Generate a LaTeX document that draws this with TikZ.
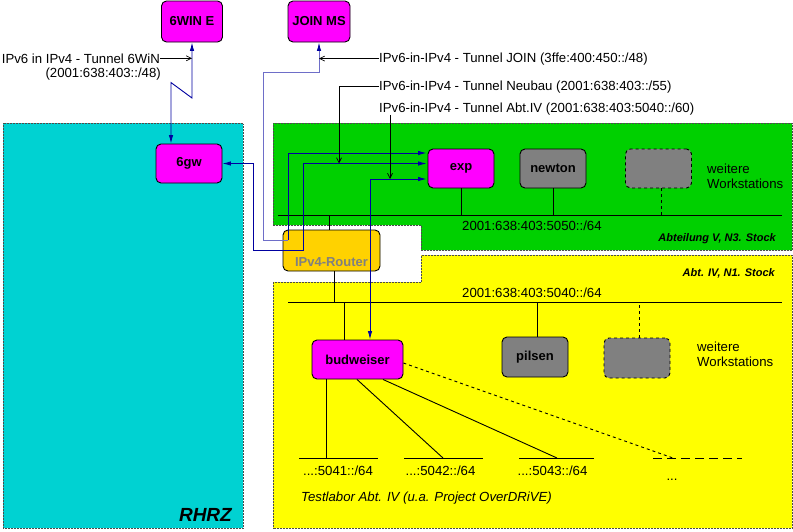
\documentclass[tikz,border=0pt]{standalone}
\usepackage{fontspec}
\setmainfont{Liberation Sans}
\usetikzlibrary{arrows.meta}

\definecolor{rhrzcyan}{RGB}{0,210,210}
\definecolor{abtgreen}{RGB}{0,208,0}
\definecolor{abtyellow}{RGB}{255,255,0}
\definecolor{hostpink}{RGB}{255,0,255}
\definecolor{routergold}{RGB}{255,210,0}
\definecolor{tunnelblue}{RGB}{0,0,160}
\definecolor{joinblue}{RGB}{110,110,200}

\tikzset{
    >={Latex[length=8.5pt,width=4.5pt]},
    txt/.style={font=\fontsize{13.2}{15}\selectfont, inner sep=0pt},
    floor/.style={font=\fontsize{11}{13}\selectfont\bfseries\itshape, inner sep=0pt},
    host/.style={draw, rounded corners=5pt, line width=0.9pt, minimum width=66pt,
        minimum height=39pt, inner sep=0pt, font=\fontsize{13}{15}\selectfont\bfseries},
    pinkhost/.style={host, fill=hostpink},
    grayhost/.style={host, fill=gray},
    morehost/.style={host, fill=gray, dashed},
    area/.style={draw=black!70, densely dotted, line width=0.5pt},
    bus/.style={line width=0.9pt},
    tunnel/.style={tunnelblue, line width=0.9pt},
    pointer/.style={line width=0.7pt, -{Straight Barb[length=5pt,width=5pt]}},
}

\begin{document}
\begin{tikzpicture}[x=1pt, y=-1pt]
\useasboundingbox (0,0) rectangle (793,531);

    % areas
    \draw[area, fill=rhrzcyan] (3,123) rectangle (243,528);
    \draw[area, fill=abtgreen] (273,123) -- (792,123) -- (792,250) -- (421,250) -- (421,225) -- (273,225) -- cycle;
    \draw[area, fill=abtyellow] (273,282) -- (421,282) -- (421,255) -- (792,255) -- (792,528) -- (273,528) -- cycle;

    \node[font=\fontsize{19}{22}\selectfont\bfseries\itshape, inner sep=0pt, anchor=base east] (rhrz) at (232,521) {RHRZ};
    \node[floor, anchor=base east] (abtv) at (776,241) {Abteilung V, N3. Stock};
    \node[floor, anchor=base east] (abtiv) at (775,276) {Abt. IV, N1. Stock};

    % buses
    \coordinate (gbus) at (0,215);
    \coordinate (ybus) at (0,302);
    \draw[bus] (278,215) -- (782,215);
    \draw[bus] (288,302) -- (782,302);
    \node[txt, anchor=base west] (net5050) at (462,230) {2001:638:403:5050::/64};
    \node[txt, anchor=base west] (net5040) at (462,297) {2001:638:403:5040::/64};

    % hosts
    \node[pinkhost, minimum width=61pt, minimum height=41pt] (win) at (192,21.5) {6WIN E};
    \node[pinkhost, minimum width=62pt, minimum height=41pt] (join) at (319,21.5) {JOIN MS};
    \node[pinkhost] (gw) at (189,163.5) {6gw};
    \node[pinkhost] (exp) at (461,168.5) {exp};
    \node[grayhost] (newton) at (553,168.5) {newton};
    \node[morehost] (moregreen) at (658.5,168.5) {};
    \node[txt, align=left, anchor=west] (txtgreen) at (707,176) {weitere\\Workstations};

    \node[host, fill=routergold, minimum width=97pt, minimum height=41pt,
        label={[yshift=-11.5pt, text=gray, font=\fontsize{13}{15}\selectfont\bfseries]center:IPv4-Router}] (router) at (331.5,250.5) {};

    \node[pinkhost, minimum width=91pt] (bud) at (357.5,359.5) {budweiser};
    \node[grayhost, minimum height=40pt] (pilsen) at (535,357) {pilsen};
    \node[morehost, minimum height=40pt] (moreyellow) at (637,358) {};
    \node[txt, align=left, anchor=west] (txtyellow) at (697,354) {weitere\\Workstations};

    \draw[bus] (exp.south) -- (exp.south |- gbus);
    \draw[bus] (newton.south) -- (newton.south |- gbus);
    \draw[bus, dashed] ([xshift=2.5pt]moregreen.south) -- ([xshift=2.5pt]moregreen.south |- gbus);
    \draw[bus] ([xshift=-2.5pt]router.north) -- ([xshift=-2.5pt]router.north |- gbus);
    \draw[bus] ([xshift=2.5pt]router.south) -- ([xshift=2.5pt]router.south |- ybus);
    \draw[bus] ([xshift=-13.5pt]bud.north) -- ([xshift=-13.5pt]bud.north |- ybus);
    \draw[bus] ([xshift=2pt]pilsen.north) -- ([xshift=2pt]pilsen.north |- ybus);
    \draw[bus, dashed] ([xshift=2pt]moreyellow.north) -- ([xshift=2pt]moreyellow.north |- ybus);

    % test lab
    \coordinate (s1) at (326,458);
    \coordinate (s2) at (443,458);
    \coordinate (s3) at (557,458);
    \coordinate (s4) at (673,458);
    \draw[bus] (299,458) -- (378,458);
    \draw[bus] (404,458) -- (483,458);
    \draw[bus] (519,458) -- (594,458);
    \draw[bus, dash pattern=on 9pt off 5pt] (653,458) -- (742,458);
    \draw[bus] ([xshift=-31.5pt]bud.south) -- (s1);
    \draw[bus] ([xshift=-0.5pt]bud.south) -- (s2);
    \draw[bus] ([xshift=25.5pt]bud.south) -- (s3);
    \draw[bus, dashed] ([yshift=-3.5pt]bud.east) -- (s4);

    \node[txt, anchor=base] (net5041) at (338,475) {...:5041::/64};
    \node[txt, anchor=base] (net5042) at (440.5,475) {...:5042::/64};
    \node[txt, anchor=base] (net5043) at (552.5,475) {...:5043::/64};
    \node[txt, anchor=base] (netmore) at (672,480) {...};
    \node[txt, font=\fontsize{13.2}{15}\selectfont\itshape, anchor=base west] (lab) at (301,501) {Testlabor Abt. IV (u.a. Project OverDRiVE)};

    % tunnels
    \draw[tunnel, <->] ([xshift=-18pt]gw.north) -- ++(0,-61) -- (192,98) -- (win.south);
    \draw[joinblue, line width=0.9pt, -{Latex[length=8.5pt,width=4.5pt,color=tunnelblue]}] (288,240) -| (263,72) -| (join.south);
    \draw[tunnel, <-] ([xshift=-1pt, yshift=15.5pt]exp.west) -| (288,240);
    \draw[tunnel, <->] ([xshift=-1pt, yshift=5pt]exp.west) -| (303,250) -| (253,163.5) -- (gw.east);
    \draw[tunnel, <->] ([xshift=-1pt, yshift=-10.5pt]exp.west) -| ([xshift=12.5pt]bud.north);

    % tunnel labels
    \node[txt, anchor=base east] (l6win) at (160,63) {IPv6 in IPv4 - Tunnel 6WiN};
    \node[txt, anchor=base east] (l6win2) at (161,77) {(2001:638:403::/48)};
    \node[txt, anchor=base west] (ljoin) at (379,62) {IPv6-in-IPv4 - Tunnel JOIN (3ffe:400:450::/48)};
    \node[txt, anchor=base west] (lneubau) at (379,90) {IPv6-in-IPv4 - Tunnel Neubau (2001:638:403::/55)};
    \node[txt, anchor=base west] (labtiv) at (379,112) {IPv6-in-IPv4 - Tunnel Abt.IV (2001:638:403:5040::/60)};

    \draw[pointer] (l6win.east) -- (l6win.east -| win.south);
    \draw[pointer] (ljoin.west) -- (ljoin.west -| join.south);
    \draw[pointer] (lneubau.west) -| (339,163.5);
    \draw[pointer] ([xshift=11pt]labtiv.south west) -- ([xshift=11pt]labtiv.south west |- 0,179);

\end{tikzpicture}
\end{document}
